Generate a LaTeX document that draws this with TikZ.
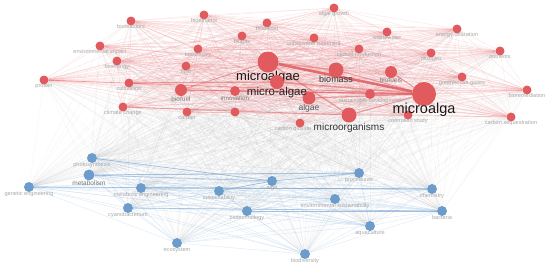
\documentclass[tikz,border=0pt]{standalone}
\usepackage{fontspec}
\setmainfont{Liberation Sans}
\usetikzlibrary{backgrounds}
\definecolor{clred}{HTML}{E05A5E}
\definecolor{clblue}{HTML}{6C9CCB}
\definecolor{cllbl}{HTML}{A8A8A8}
\definecolor{linkred}{HTML}{E8757A}
\definecolor{linkblue}{HTML}{8DB4DC}
\definecolor{linkgrey}{HTML}{B4B4B4}

\begin{document}
\begin{tikzpicture}[x=1pt, y=-1pt,
    rdot/.style={circle, fill=clred, inner sep=0pt, minimum size=#1}, rdot/.default=9,
    bdot/.style={circle, fill=clblue, inner sep=0pt, minimum size=#1}, bdot/.default=10,
    lbl/.style={font=\fontsize{5.6}{6}\selectfont, text=cllbl, inner sep=0pt, yshift=1pt},
    big/.style={font=\fontsize{#1}{#1}\selectfont, text=black!90, inner sep=0pt},
    redlink/.style={draw=linkred, draw opacity=0.19, line width=0.4pt},
    bluelink/.style={draw=linkblue, draw opacity=0.3, line width=0.4pt},
    greylink/.style={draw=linkgrey, draw opacity=0.15, line width=0.35pt}]
        % Fix the size of the picture
        \useasboundingbox (0,0) rectangle (550,269);

        % Draw the red cluster
        \node[rdot, label={[lbl]below:bioreactors}] (bioreactors) at (131,21) {};
        \node[rdot, label={[lbl]below:environmental impact}] (envimpact) at (100,46) {};
        \node[rdot, label={[lbl]below:bioenergy}] (bioenergy) at (117,61) {};
        \node[rdot, label={[lbl]below:protein}] (protein) at (44,80) {};
        \node[rdot, label={[lbl]below:cultivation}] (cultivation) at (129,83) {};
        \node[rdot, label={[lbl]below:climate change}] (climate) at (123,107) {};
        \node[rdot, label={[lbl]below:bioethanol}] (bioethanol) at (204,15) {};
        \node[rdot, label={[lbl]below:biodiesel}] (biodiesel) at (267,23) {};
        \node[rdot, label={[lbl]below:biogas}] (biogas) at (242,36) {};
        \node[rdot, label={[lbl]below:biorefinery}] (biorefinery) at (198,49) {};
        \node[rdot, label={[lbl]below:lipid}] (lipid) at (186,66) {};
        \node[rdot=12, label={[big=6.5, text=black!50]below:biofuel}] (biofuel) at (181,90) {};
        \node[rdot=10, label={[big=6.2, text=black!50]below:innovation}] (innovation) at (235,91) {};
        \node[rdot, label={[lbl]below:carbon}] (carbon) at (187,112) {};
        \node[rdot] (rnode) at (235,112) {};
        \node[rdot, label={[lbl, xshift=-7pt]below:carbon dioxide}] (codiox) at (300,123) {};
        \node[rdot, label={[lbl]below:wastewater treatment}] (wwtreat) at (314,38) {};
        \node[rdot, label={[lbl]below:algal growth}] (algalgrowth) at (334,8) {};
        \node[rdot, label={[lbl]below:wastewater}] (wastewater) at (387,32) {};
        \node[rdot, label={[lbl]below:biofuel production}] (bfprod) at (359,49) {};
        \node[rdot, label={[lbl]below:energy utilization}] (energyutil) at (457,29) {};
        \node[rdot, label={[lbl]below:nitrogen}] (nitrogen) at (431,53) {};
        \node[rdot, label={[lbl]below:nutrients}] (nutrients) at (500,51) {};
        \node[rdot=12, label={[big=6.5, text=black!50, yshift=1pt]below:biofuels}] (biofuels) at (391,72) {};
        \node[rdot, label={[lbl]below:greenhouse gases}] (ghg) at (462,77) {};
        \node[rdot, label={[lbl]below:bioremediation}] (bioremed) at (527,90) {};
        \node[rdot=10, label={[lbl]below:sustainable development}] (sustdev) at (370,94) {};
        \node[rdot, label={[lbl]below:controlled study}] (controlled) at (408,115) {};
        \node[rdot, label={[lbl]below:carbon sequestration}] (carbonseq) at (511,117) {};
        \node[rdot=13, label={[big=8.5, text=black!65, yshift=0.5pt]below:algae}] (algae) at (309,98) {};
        \node[rdot=15, label={[big=9, text=black!80, yshift=1.5pt]below:biomass}] (biomass) at (336,70) {};
        \node[rdot=15, label={[big=10, text=black!80]below:microorganisms}] (microorg) at (349,115) {};
        \node[rdot=21, label={[big=13, yshift=1.5pt]below:microalgae}] (microalgae) at (268,62) {};
        \node[rdot=14, label={[big=11.5, text=black!85, yshift=2.5pt]below:micro-algae}] (microalgaeh) at (277,82) {};
        \node[rdot=24, label={[big=14.5, yshift=3.5pt]below:microalga}] (microalga) at (424,94) {};

        % Draw the blue cluster
        \node[bdot, label={[lbl]below:photosynthesis}] (photosyn) at (92,158) {};
        \node[bdot=11, label={[big=6.5, text=black!55]below:metabolism}] (metabolism) at (89,175) {};
        \node[bdot, label={[lbl]below:genetic engineering}] (geneng) at (29,187) {};
        \node[bdot, label={[lbl]below:metabolic engineering}] (metaeng) at (141,188) {};
        \node[bdot, label={[lbl]below:cyanobacterium}] (cyano) at (128,208) {};
        \node[bdot, label={[lbl]below:ecosystem}] (ecosystem) at (177,243) {};
        \node[bdot, label={[lbl]below:sustainability}] (sustain) at (219,191) {};
        \node[bdot, label={[lbl]below:alga}] (alga) at (272,181) {};
        \node[bdot, label={[lbl]below:biotechnology}] (biotech) at (247,211) {};
        \node[bdot, label={[lbl]below:procedures}] (procedures) at (359,173) {};
        \node[bdot, label={[lbl]below:environmental sustainability}] (envsust) at (335,199) {};
        \node[bdot, label={[lbl]below:aquaculture}] (aquaculture) at (370,226) {};
        \node[bdot, label={[lbl]below:biodiversity}] (biodiversity) at (305,254) {};
        \node[bdot, label={[lbl]below:chemistry}] (chemistry) at (432,189) {};
        \node[bdot, label={[lbl]below:bacteria}] (bacteria) at (442,211) {};

        \def\rednodes{bioreactors,envimpact,bioenergy,protein,cultivation,climate,bioethanol,biodiesel,biogas,biorefinery,lipid,biofuel,innovation,carbon,rnode,codiox,wwtreat,algalgrowth,wastewater,bfprod,energyutil,nitrogen,nutrients,biofuels,ghg,bioremed,sustdev,controlled,carbonseq,algae,biomass,microorg,microalgae,microalgaeh,microalga}
        \def\bluenodes{photosyn,metabolism,geneng,metaeng,cyano,ecosystem,sustain,alga,biotech,procedures,envsust,aquaculture,biodiversity,chemistry,bacteria}

        \begin{pgfonlayer}{background}
          % Links between the two clusters
          \foreach \a in \rednodes
            \foreach \b in \bluenodes
              \draw[greylink] (\a) -- (\b);
          % Links inside the red cluster
          \foreach \a [count=\i] in \rednodes
            \foreach \b [count=\j] in \rednodes
            {
              \ifnum\j>\i \draw[redlink] (\a) -- (\b); \fi
            }
          % Links inside the blue cluster
          \foreach \a [count=\i] in \bluenodes
            \foreach \b [count=\j] in \bluenodes
            {
              \ifnum\j>\i \draw[bluelink] (\a) -- (\b); \fi
            }
          % Strong links
          \draw[draw=clred, draw opacity=0.85, line width=2.6pt] (microalgae) -- (microalga);
          \foreach \a/\b/\w in {microalgaeh/microalga/1.6, biofuel/microalga/1.2, cultivation/microalgaeh/1.2,
              microalgae/biomass/1.2, microalgae/microorg/1.2, biomass/microalga/1, algae/microalga/1,
              microorg/microalga/1.2, biofuels/microalga/1, climate/microorg/0.8, protein/microalga/0.6,
              sustdev/microalga/1, innovation/microalga/0.8, microalgae/biofuel/0.8}
            \draw[draw=clred, draw opacity=0.5, line width=\w pt] (\a) -- (\b);
          \foreach \a/\b/\w in {metabolism/procedures/1, photosyn/alga/0.8, geneng/chemistry/0.7,
              metaeng/chemistry/0.8, cyano/bacteria/0.7, alga/procedures/0.8, sustain/alga/0.7,
              biotech/bacteria/0.6, metabolism/alga/0.6}
            \draw[draw=clblue, draw opacity=0.5, line width=\w pt] (\a) -- (\b);
        \end{pgfonlayer}
      \end{tikzpicture}
\end{document}
